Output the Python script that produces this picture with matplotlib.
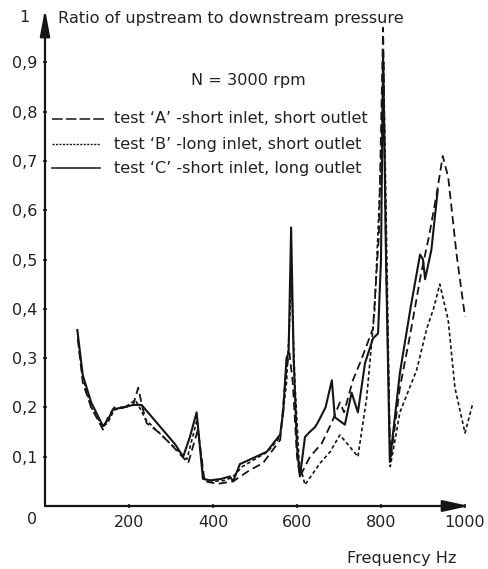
import matplotlib
matplotlib.use("Agg")
import matplotlib.pyplot as plt
from matplotlib.lines import Line2D

plt.rcParams['font.family'] = ['DejaVu Sans']

# ---- data ----
freq_c = [77, 90, 110, 138, 150, 162, 185, 210, 230, 250, 280, 310, 329, 345, 361, 376, 393, 420, 440, 448, 464, 495, 528, 560, 567, 575, 580, 586, 592, 600, 607, 619, 630, 643, 650, 668, 683, 690, 714, 730, 745, 762, 781, 793, 800, 805, 812, 821, 845, 870, 893, 900, 905, 920, 935]
ratio_c = [0.357, 0.265, 0.21, 0.162, 0.175, 0.196, 0.20, 0.205, 0.205, 0.185, 0.155, 0.125, 0.10, 0.14, 0.19, 0.055, 0.052, 0.055, 0.06, 0.05, 0.085, 0.097, 0.11, 0.145, 0.19, 0.30, 0.31, 0.565, 0.30, 0.12, 0.06, 0.14, 0.15, 0.16, 0.17, 0.20, 0.255, 0.18, 0.165, 0.23, 0.19, 0.29, 0.34, 0.35, 0.50, 0.92, 0.50, 0.09, 0.27, 0.40, 0.51, 0.50, 0.46, 0.52, 0.64]

freq_a = [78, 90, 110, 138, 150, 165, 190, 210, 222, 232, 242, 270, 300, 341, 364, 380, 412, 448, 488, 519, 560, 575, 582, 590, 600, 607, 631, 659, 683, 702, 712, 733, 750, 781, 795, 805, 812, 822, 845, 870, 895, 915, 933, 947, 960, 980, 1000]
ratio_a = [0.34, 0.25, 0.20, 0.155, 0.18, 0.20, 0.20, 0.205, 0.24, 0.20, 0.168, 0.15, 0.125, 0.087, 0.155, 0.05, 0.045, 0.05, 0.073, 0.087, 0.134, 0.28, 0.31, 0.25, 0.10, 0.06, 0.10, 0.127, 0.17, 0.21, 0.19, 0.255, 0.29, 0.36, 0.55, 0.97, 0.50, 0.09, 0.24, 0.35, 0.47, 0.55, 0.635, 0.71, 0.667, 0.51, 0.384]

freq_b = [78, 90, 110, 138, 150, 165, 190, 215, 225, 240, 270, 300, 338, 362, 378, 400, 430, 448, 470, 500, 530, 560, 575, 587, 595, 605, 619, 655, 679, 702, 726, 745, 766, 785, 800, 806, 815, 822, 845, 885, 909, 925, 940, 960, 976, 1000, 1019]
ratio_b = [0.34, 0.26, 0.20, 0.16, 0.17, 0.195, 0.20, 0.215, 0.20, 0.175, 0.15, 0.125, 0.095, 0.175, 0.055, 0.05, 0.052, 0.06, 0.08, 0.095, 0.11, 0.14, 0.25, 0.45, 0.25, 0.09, 0.043, 0.087, 0.11, 0.144, 0.12, 0.10, 0.22, 0.40, 0.70, 0.90, 0.45, 0.08, 0.19, 0.276, 0.36, 0.40, 0.45, 0.377, 0.24, 0.148, 0.21]

x_ticks = [200, 400, 600, 800, 1000]
x_tick_labels = ['200', '400', '600', '800', '1000']
y_ticks = [0.1, 0.2, 0.3, 0.4, 0.5, 0.6, 0.7, 0.8, 0.9]
y_tick_labels = ['0,1', '0,2', '0,3', '0,4', '0,5', '0,6', '0,7', '0,8', '0,9']

title_text = 'Ratio of upstream to downstream pressure'
speed_text = 'N = 3000 rpm'
legend_labels = ['test \u2018A\u2019 -short inlet, short outlet',
                 'test \u2018B\u2019 -long inlet, short outlet',
                 'test \u2018C\u2019 -short inlet, long outlet']
xlabel_text = 'Frequency Hz'

# ---- figure ----
W, H = 488, 569
fig = plt.figure(figsize=(W / 100, H / 100), dpi=100)
PX_PER_HZ = 0.42
PX_PER_UNIT = 493
x0, y0 = 45, 506
XMAX, YMAX = 1050, 1.03
ax = fig.add_axes([x0 / W, (H - y0) / H, XMAX * PX_PER_HZ / W, YMAX * PX_PER_UNIT / H])
ax.set_xlim(0, XMAX)
ax.set_ylim(0, YMAX)
for s in ax.spines.values():
    s.set_visible(False)

ink = '#151515'
txt = '#222222'
ax.plot(freq_a, ratio_a, color=ink, lw=1.3, dashes=(4.5, 2.5), clip_on=False)
ax.plot(freq_b, ratio_b, color=ink, lw=1.2, dashes=(2.2, 1.6), clip_on=False)
ax.plot(freq_c, ratio_c, color=ink, lw=1.5, clip_on=False)

# axis arrows
ax.annotate('', xy=(1010, 0), xytext=(0, 0),
            arrowprops=dict(arrowstyle='-|>,head_length=1.6,head_width=0.35', color=ink, lw=1.6,
                            shrinkA=0, shrinkB=0), annotation_clip=False)
ax.annotate('', xy=(0, 1.008), xytext=(0, 0),
            arrowprops=dict(arrowstyle='-|>,head_length=1.6,head_width=0.3', color=ink, lw=1.6,
                            shrinkA=0, shrinkB=0), annotation_clip=False)

ax.set_xticks(x_ticks)
ax.set_xticklabels(x_tick_labels)
ax.set_yticks(y_ticks)
ax.set_yticklabels(y_tick_labels)
ax.tick_params(axis='both', direction='inout', length=3, width=1.2, color=ink,
               labelsize=11.5, labelcolor=txt)
ax.tick_params(axis='x', pad=5)
ax.tick_params(axis='y', pad=4)


def fx(px):
    return px / W


def fy(py):
    return 1 - py / H


fs = 11.6
fig.text(fx(32), fy(520), '0', fontsize=11.5, color=txt, ha='center', va='center')
fig.text(fx(24), fy(17), '1', fontsize=11.5, color=txt, ha='center', va='center')
fig.text(fx(58), fy(18), title_text, fontsize=fs, color=txt, ha='left', va='center')
fig.text(fx(248), fy(80), speed_text, fontsize=fs, color=txt, ha='center', va='center')
fig.text(fx(347), fy(558), xlabel_text, fontsize=fs, color=txt, ha='left', va='center')

leg_y = [119, 144, 168]
leg_styles = [dict(lw=1.1, dashes=(7, 2)), dict(lw=1.0, dashes=(1.5, 1.0)), dict(lw=1.1)]
leg_x_end = [107, 100, 100]
for y, lab, st, xe in zip(leg_y, legend_labels, leg_styles, leg_x_end):
    fig.add_artist(Line2D([fx(52), fx(xe)], [fy(y), fy(y)], color=ink, transform=fig.transFigure, **st))
    fig.text(fx(114), fy(y), lab, fontsize=fs, color=txt, ha='left', va='center')

fig.savefig('out.png', dpi=100)
